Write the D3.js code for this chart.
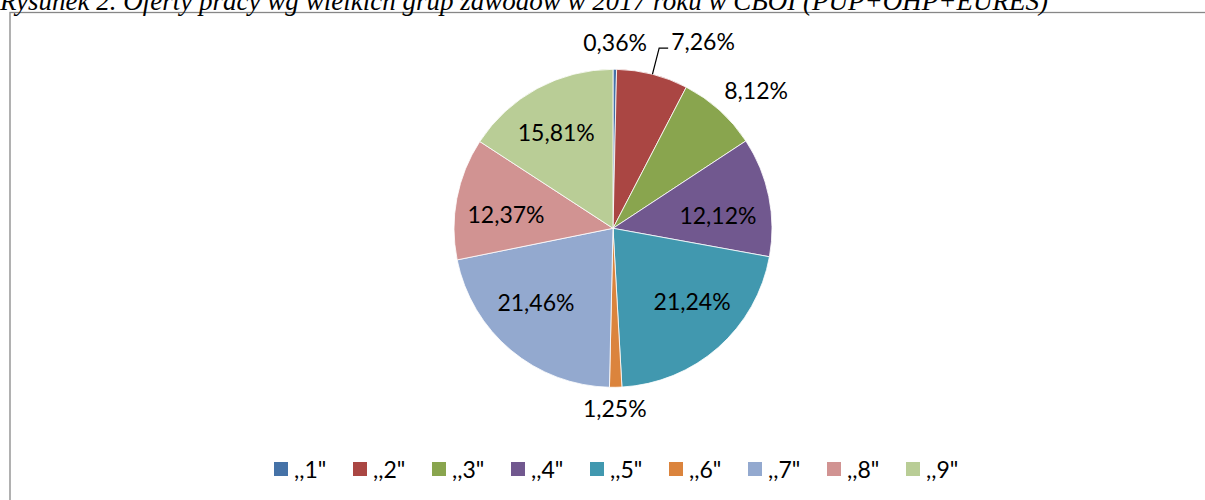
<!DOCTYPE html>
<html>
<head>
<meta charset="utf-8">
<script src="https://cdn.jsdelivr.net/npm/d3@7"></script>
<style>
  html, body { margin: 0; padding: 0; background: #fff; overflow: hidden; }
  svg { display: block; }
</style>
</head>
<body>
<svg id="chart" width="1205" height="500"></svg>
<script>
// ---- data ----
const categories = [",,1\"", ",,2\"", ",,3\"", ",,4\"", ",,5\"", ",,6\"", ",,7\"", ",,8\"", ",,9\""];
const values = [0.36, 7.26, 8.12, 12.12, 21.24, 1.25, 21.46, 12.37, 15.81];
const valueLabels = ["0,36%", "7,26%", "8,12%", "12,12%", "21,24%", "1,25%", "21,46%", "12,37%", "15,81%"];
const titleText = "Rysunek 2. Oferty pracy wg wielkich grup zawodów w 2017 roku w CBOI (PUP+OHP+EURES)";

// ---- style / layout config ----
const colors = ["#4572A7", "#AA4643", "#89A54E", "#71588F", "#4198AF", "#DB843D", "#93A9CF", "#D19392", "#B9CD96"];
// [radius factor, angle shift in degrees, leader?]
const labelPlacement = [
  [1.17, 0, false],
  [1.17, 0, true],
  [1.25, 4, false],
  [0.665, 4.4, false],
  [0.677, -5.8, false],
  [1.135, 0.4, false],
  [0.676, 5.9, false],
  [0.678, -3.8, false],
  [0.70, -2.2, false]
];
const labelFont = "Lato, 'Open Sans', sans-serif";
const cx = 613, cy = 228.3, R = 159;

const svg = d3.select("#chart");

// frame
svg.append("rect")
  .attr("x", 10).attr("y", 12.5)
  .attr("width", 1210).attr("height", 520)
  .attr("fill", "none").attr("stroke", "#878787").attr("stroke-width", 1.3);

// title (clipped at the top, as in the reference)
svg.append("text")
  .attr("x", 0).attr("y", 9.5)
  .attr("font-family", "'Liberation Serif', 'Times New Roman', serif")
  .attr("font-style", "italic")
  .attr("font-size", 27)
  .attr("textLength", 1048)
  .attr("lengthAdjust", "spacingAndGlyphs")
  .attr("fill", "#000")
  .text(titleText);

// pie
const pie = d3.pie().sort(null).value(d => d)(values);
const arc = d3.arc().innerRadius(0).outerRadius(R);
const g = svg.append("g").attr("transform", `translate(${cx},${cy})`);

g.selectAll("path.slice")
  .data(pie)
  .join("path")
  .attr("class", "slice")
  .attr("d", arc)
  .attr("fill", (d, i) => colors[i])
  .attr("stroke", "#ffffff")
  .attr("stroke-width", 0.8)
  .attr("stroke-linejoin", "round");

function polar(angle, r) {
  return [Math.sin(angle) * r, -Math.cos(angle) * r];
}

pie.forEach((d, i) => {
  const [rf, shiftDeg, leader] = labelPlacement[i];
  const mid = (d.startAngle + d.endAngle) / 2;
  if (leader) {
    const p0 = polar(mid, R);
    const p1 = polar(mid, R * 1.17);
    const p2 = [p1[0] + 9, p1[1]];
    g.append("path")
      .attr("d", d3.line()([p0, p1, p2]))
      .attr("fill", "none").attr("stroke", "#000").attr("stroke-width", 1.2);
    g.append("text")
      .attr("x", p2[0] + 3).attr("y", p1[1] - 6)
      .attr("dy", "0.36em")
      .attr("text-anchor", "start")
      .attr("font-family", labelFont)
      .attr("font-size", 23)
      .attr("fill", "#000")
      .text(valueLabels[i]);
  } else {
    const a = mid + shiftDeg * Math.PI / 180;
    const p = polar(a, R * rf);
    g.append("text")
      .attr("x", p[0]).attr("y", p[1])
      .attr("dy", "0.36em")
      .attr("text-anchor", "middle")
      .attr("font-family", labelFont)
      .attr("font-size", 23)
      .attr("fill", "#000")
      .text(valueLabels[i]);
  }
});

// legend
const legendX = d3.scalePoint().domain(categories).range([274, 906]);
const lg = svg.append("g");
const items = lg.selectAll("g.item").data(categories).join("g")
  .attr("class", "item")
  .attr("transform", d => `translate(${legendX(d)},462)`);
items.append("rect")
  .attr("width", 14).attr("height", 14)
  .attr("fill", (d, i) => colors[i]);
items.append("text")
  .attr("x", 20).attr("y", 15.5)
  .attr("font-family", labelFont)
  .attr("font-size", 23)
  .attr("fill", "#000")
  .text(d => d);
</script>
</body>
</html>
